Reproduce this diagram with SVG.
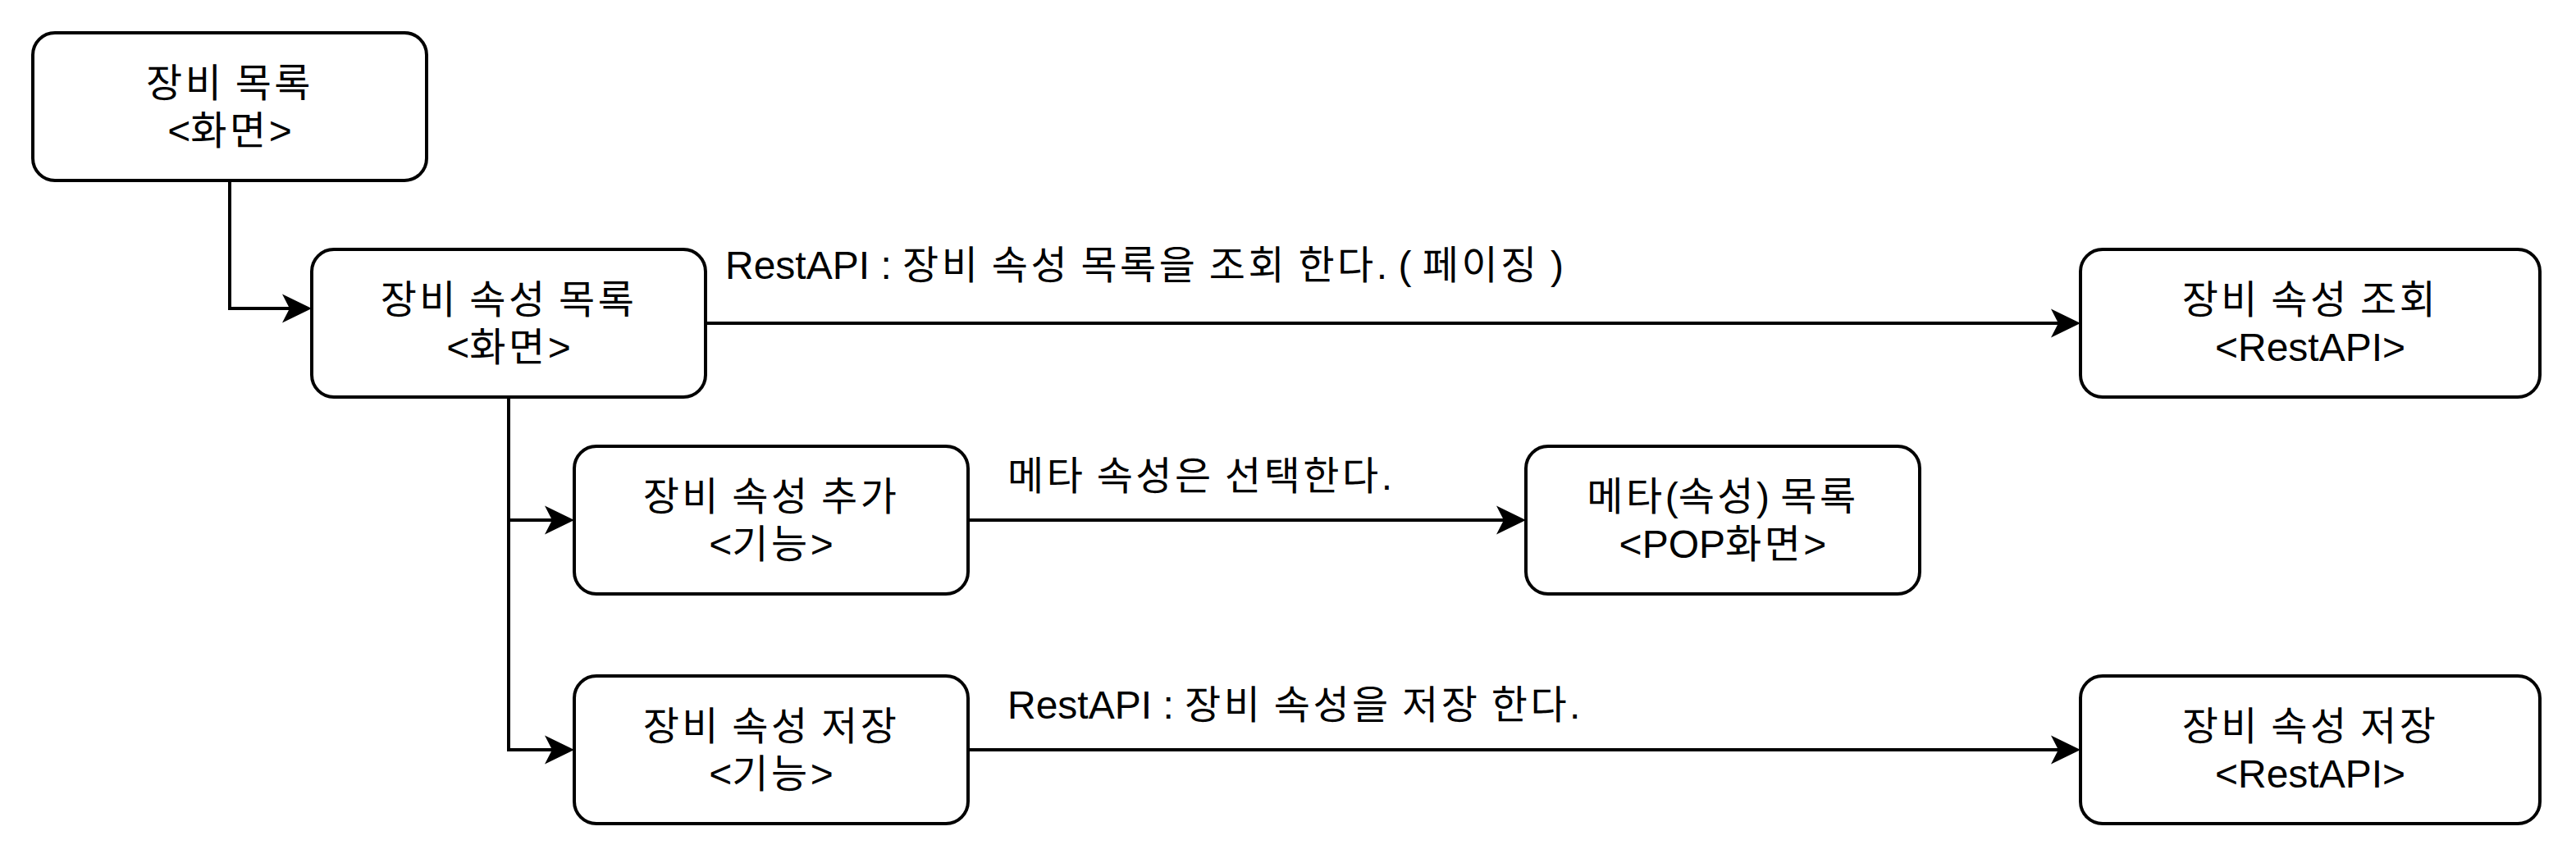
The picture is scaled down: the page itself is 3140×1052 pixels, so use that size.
<svg xmlns="http://www.w3.org/2000/svg" width="3140" height="1052" viewBox="0 0 3140 1052">
<style>
.box{fill:#ffffff;stroke:#000000;stroke-width:4}
.t{font-family:"Liberation Sans","Noto Sans CJK KR",sans-serif;font-size:48px;fill:#000000}
.c{text-anchor:middle}
.k{letter-spacing:3.5px}
.e{fill:none;stroke:#000000;stroke-width:4}
</style>
<defs>
<marker id="arr" markerUnits="userSpaceOnUse" markerWidth="40" markerHeight="40" viewBox="0 0 40 40" refX="9" refY="20" orient="auto">
<path d="M0,2.5 L36,20 L0,37.5 L9,20 Z" fill="#000000"/>
</marker>
</defs>
<rect width="3140" height="1052" fill="#ffffff"/>
<g id="connectors">
<path class="e" d="M280,220 V376 H353" marker-end="url(#arr)"/>
<path class="e" d="M860,394 H2509" marker-end="url(#arr)"/>
<path class="e" d="M620,484 V634 H673" marker-end="url(#arr)"/>
<path class="e" d="M620,484 V914 H673" marker-end="url(#arr)"/>
<path class="e" d="M1180,634 H1833" marker-end="url(#arr)"/>
<path class="e" d="M1180,914 H2509" marker-end="url(#arr)"/>
<text class="t" x="884" y="340">RestAPI : <tspan class="k">장비</tspan> <tspan class="k">속성</tspan> <tspan class="k">목록을</tspan> <tspan class="k">조회</tspan> <tspan class="k">한다</tspan>. ( <tspan class="k">페이징</tspan> )</text>
<text class="t" x="1228" y="597"><tspan class="k">메타</tspan> <tspan class="k">속성은</tspan> <tspan class="k">선택한다</tspan>.</text>
<text class="t" x="1228" y="876">RestAPI : <tspan class="k">장비</tspan> <tspan class="k">속성을</tspan> <tspan class="k">저장</tspan> <tspan class="k">한다</tspan>.</text>
</g>
<g id="node-equip-list">
<rect class="box" x="40" y="40" width="480" height="180" rx="27"/>
<text class="t c" x="280" y="118"><tspan class="k">장비</tspan> <tspan class="k">목록</tspan></text>
<text class="t c" x="280" y="175.6">&lt;<tspan class="k">화면</tspan>&gt;</text>
</g>
<g id="node-attr-list">
<rect class="box" x="380" y="304" width="480" height="180" rx="27"/>
<text class="t c" x="620" y="382"><tspan class="k">장비</tspan> <tspan class="k">속성</tspan> <tspan class="k">목록</tspan></text>
<text class="t c" x="620" y="439.6">&lt;<tspan class="k">화면</tspan>&gt;</text>
</g>
<g id="node-attr-query">
<rect class="box" x="2536" y="304" width="560" height="180" rx="27"/>
<text class="t c" x="2816" y="382"><tspan class="k">장비</tspan> <tspan class="k">속성</tspan> <tspan class="k">조회</tspan></text>
<text class="t c" x="2816" y="439.6">&lt;RestAPI&gt;</text>
</g>
<g id="node-attr-add">
<rect class="box" x="700" y="544" width="480" height="180" rx="27"/>
<text class="t c" x="940" y="622"><tspan class="k">장비</tspan> <tspan class="k">속성</tspan> <tspan class="k">추가</tspan></text>
<text class="t c" x="940" y="679.6">&lt;<tspan class="k">기능</tspan>&gt;</text>
</g>
<g id="node-meta-list">
<rect class="box" x="1860" y="544" width="480" height="180" rx="27"/>
<text class="t c" x="2100" y="622"><tspan class="k">메타</tspan>(<tspan class="k">속성</tspan>) <tspan class="k">목록</tspan></text>
<text class="t c" x="2100" y="679.6">&lt;POP<tspan class="k">화면</tspan>&gt;</text>
</g>
<g id="node-attr-save">
<rect class="box" x="700" y="824" width="480" height="180" rx="27"/>
<text class="t c" x="940" y="902"><tspan class="k">장비</tspan> <tspan class="k">속성</tspan> <tspan class="k">저장</tspan></text>
<text class="t c" x="940" y="959.6">&lt;<tspan class="k">기능</tspan>&gt;</text>
</g>
<g id="node-attr-save-api">
<rect class="box" x="2536" y="824" width="560" height="180" rx="27"/>
<text class="t c" x="2816" y="902"><tspan class="k">장비</tspan> <tspan class="k">속성</tspan> <tspan class="k">저장</tspan></text>
<text class="t c" x="2816" y="959.6">&lt;RestAPI&gt;</text>
</g>
</svg>
